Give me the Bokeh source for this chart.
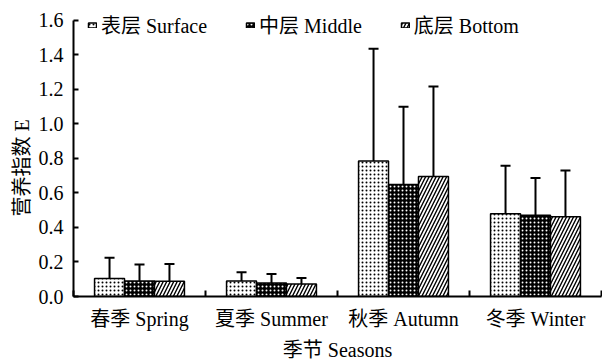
import numpy as np
from bokeh.plotting import figure
from bokeh.models import (ColumnDataSource, Range1d, FixedTicker, Whisker, TeeHead,
                          Legend, LegendItem, NumeralTickFormatter, Title)
from bokeh.embed import file_html
from bokeh.resources import INLINE

# Trophic index E by season and water layer (mean and standard deviation)
seasons = ["春季 Spring", "夏季 Summer", "秋季 Autumn", "冬季 Winter"]
layer_names = ["表层 Surface", "中层 Middle", "底层 Bottom"]
surface_mean = [0.105, 0.09, 0.785, 0.48]
surface_sd = [0.12, 0.05, 0.65, 0.277]
middle_mean = [0.09, 0.078, 0.649, 0.471]
middle_sd = [0.096, 0.052, 0.451, 0.215]
bottom_mean = [0.088, 0.072, 0.695, 0.462]
bottom_sd = [0.1, 0.035, 0.522, 0.268]
y_ticks = [0.0, 0.2, 0.4, 0.6, 0.8, 1.0, 1.2, 1.4, 1.6]

FONT = "'Liberation Serif', 'Noto Sans CJK SC', serif"
FS = "20px"

# layout: the frame reaches a little above the 1.6 tick so the legend has room
W, H = 602, 363
border_top, border_bottom = 3, 65
frame_h = H - border_top - border_bottom
axis_px = 278                      # pixel length of the 0 .. 1.6 span
y_top = y_ticks[-1] * frame_h / axis_px

p = figure(width=W, height=H, output_backend="svg", toolbar_location=None,
           x_range=Range1d(0, 4), y_range=Range1d(0, y_top),
           min_border_left=73, min_border_right=1, min_border_top=border_top,
           min_border_bottom=border_bottom)
p.outline_line_color = None
p.grid.grid_line_color = None
p.background_fill_color = "white"
p.border_fill_color = "white"

bar_w = 0.227
offsets = [-bar_w, 0.0, bar_w]
styles = [
    dict(fill_color="white", hatch_pattern="dot", hatch_color="black",
         hatch_scale=4, hatch_weight=1.6),
    dict(fill_color="black", hatch_pattern="dot", hatch_color="white",
         hatch_scale=4, hatch_weight=1.8),
    dict(fill_color="white", hatch_pattern="right_diagonal_line", hatch_color="black",
         hatch_scale=7, hatch_weight=1.4),
]

centers = np.arange(len(seasons)) + 0.5
legend_items = []
sources = []
for means, sds, off, st, name in zip([surface_mean, middle_mean, bottom_mean],
                                      [surface_sd, middle_sd, bottom_sd],
                                      offsets, styles, layer_names):
    m = np.array(means)
    s = np.array(sds)
    src = ColumnDataSource(dict(x=centers + off, top=m, upper=m + s, lower=m - s))
    r = p.vbar(x="x", top="top", width=bar_w, source=src,
               line_color="black", line_width=1.5, **st)
    legend_items.append(LegendItem(label=name, renderers=[r]))
    sources.append(src)

# standard-deviation error bars
for src in sources:
    w = Whisker(source=src, base="x", upper="upper", lower="lower",
                line_color="black", line_width=2,
                upper_head=TeeHead(size=10, line_width=2, line_color="black"),
                lower_head=TeeHead(size=10, line_width=2, line_color="black"))
    p.add_layout(w)

# y axis (line stops at the last tick)
yax = p.yaxis[0]
yax.ticker = FixedTicker(ticks=y_ticks)
yax.bounds = (y_ticks[0], y_ticks[-1])
yax.formatter = NumeralTickFormatter(format="0.0")
yax.major_tick_in = 5
yax.major_tick_out = 0
yax.minor_tick_line_color = None
yax.axis_line_width = 2
yax.major_tick_line_width = 2
yax.major_label_text_font = FONT
yax.major_label_text_font_size = FS
yax.major_label_text_color = "black"
yax.major_label_standoff = 10

# y axis title, starting 80 px above the x axis
p.add_layout(Title(text="营养指数 E", align="left", offset=80, standoff=6,
                   text_font=FONT, text_font_size=FS, text_font_style="normal",
                   text_color="black"), "left")

# x axis: labels at category centres, tick marks at category boundaries
xax = p.xaxis[0]
xax.ticker = FixedTicker(ticks=list(centers), minor_ticks=[0, 1, 2, 3, 4])
xax.major_label_overrides = {float(c): s for c, s in zip(centers, seasons)}
xax.major_tick_line_color = None
xax.minor_tick_in = 6
xax.minor_tick_out = 0
xax.minor_tick_line_width = 2
xax.axis_line_width = 2
xax.major_label_text_font = FONT
xax.major_label_text_font_size = FS
xax.major_label_text_color = "black"
xax.major_label_standoff = 5
xax.axis_label = "季节 Seasons"
xax.axis_label_text_font = FONT
xax.axis_label_text_font_size = FS
xax.axis_label_text_font_style = "normal"
xax.axis_label_text_color = "black"
xax.axis_label_standoff = 6

legend = Legend(items=legend_items, orientation="horizontal", location=(14, 257),
                glyph_width=10, glyph_height=6, label_standoff=4, spacing=38,
                padding=0, margin=0, border_line_color=None,
                background_fill_alpha=0, label_text_font=FONT,
                label_text_font_size=FS, label_text_color="black",
                label_height=20)
p.add_layout(legend)

open("out.html", "w").write(file_html(p, INLINE))
